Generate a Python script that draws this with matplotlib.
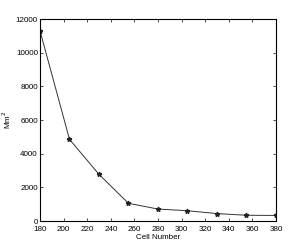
import matplotlib
matplotlib.use("Agg")
import matplotlib.pyplot as plt

plt.rcParams['font.family'] = ['Liberation Sans', 'DejaVu Sans']

cells = [180, 205, 230, 255, 280, 305, 330, 355, 380]
area = [11300, 4850, 2770, 1050, 710, 610, 440, 340, 330]
xticks = [180, 200, 220, 240, 260, 280, 300, 320, 340, 360, 380]
yticks = [0, 2000, 4000, 6000, 8000, 10000, 12000]

fig = plt.figure(figsize=(3.05, 2.49), dpi=100)
ax = fig.add_axes([40/305, 1-221/249, 236/305, 202/249])
ax.plot(cells, area, color='#333333', lw=0.7, marker='*', ms=3.5, mfc='#222222', mec='#222222')
ax.set_xlim(180, 380)
ax.set_ylim(0, 12000)
ax.set_xticks(xticks)
ax.set_yticks(yticks)
ax.tick_params(direction='in', labelsize=5.8, length=2, width=0.5, top=True, right=True)
ax.tick_params(axis='x', pad=3.5)
ax.tick_params(axis='y', pad=1.5)
for s in ax.spines.values():
    s.set_linewidth(0.8)
ax.set_xlabel('Cell Number', fontsize=5.8, labelpad=1)
ax.set_ylabel('Mm$^2$', fontsize=5.8, labelpad=2)
fig.savefig('out.png', dpi=100)
